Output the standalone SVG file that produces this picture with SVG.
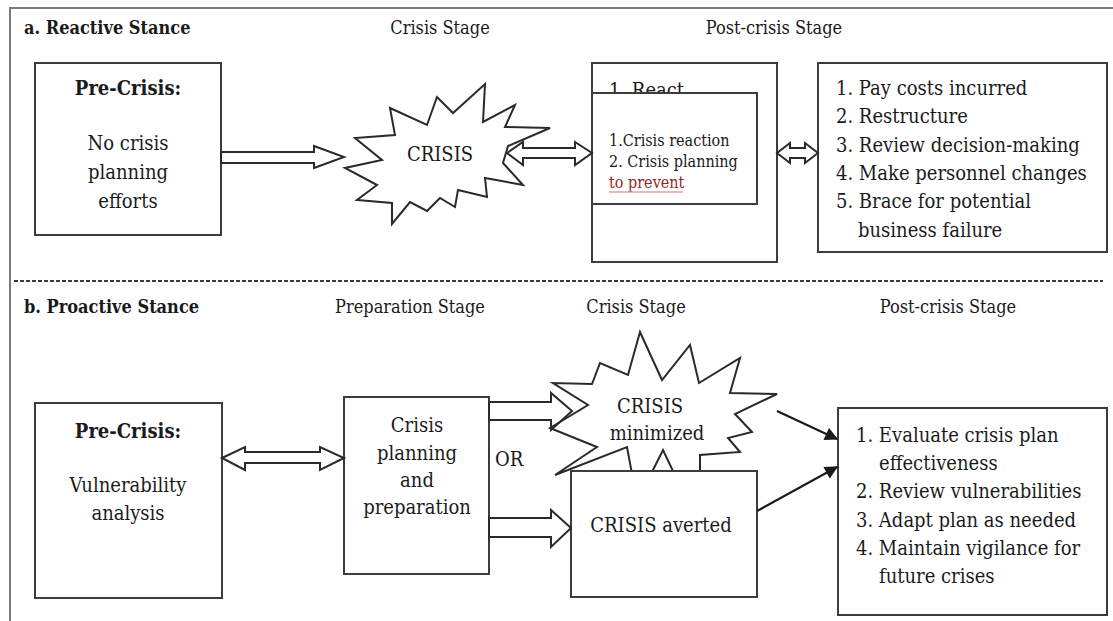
<svg xmlns="http://www.w3.org/2000/svg" width="1113" height="621" viewBox="0 0 1113 621" font-family="DejaVu Serif Condensed, DejaVu Serif, serif" font-stretch="condensed">
  <style>
    text { fill: #1a1a1a; }
    .hdr { font-size: 18px; }
    .hdrb { font-size: 18px; font-weight: bold; }
    .body { font-size: 20px; }
    .bold { font-size: 20px; font-weight: bold; }
    .small { font-size: 16px; }
    .mid { text-anchor: middle; }
    .box { fill: #ffffff; stroke: #3c3c3c; stroke-width: 2; }
    .star { fill: #ffffff; stroke: #2a2a2a; stroke-width: 2; stroke-linejoin: miter; }
    .block { fill: none; stroke: #2a2a2a; stroke-width: 2; stroke-linejoin: miter; }
    .line { fill: none; stroke: #1a1a1a; stroke-width: 2.2; }
  </style>
  <defs>
    <marker id="solidHead" viewBox="0 0 10 10" refX="9" refY="5" markerWidth="6.5" markerHeight="6" orient="auto" markerUnits="strokeWidth">
      <path d="M0,0 L10,5 L0,10 z" fill="#1a1a1a"/>
    </marker>
  </defs>

  <rect width="1113" height="621" fill="#ffffff"/>

  <!-- outer frame: top and left edges -->
  <path d="M10,621 L10,8 L1113,8" fill="none" stroke="#7a7a7a" stroke-width="2"/>

  <!-- section divider -->
  <line x1="14" y1="281" x2="1103" y2="281" stroke="#3a3a3a" stroke-width="2.2" stroke-dasharray="4 2"/>

  <!-- stage headings -->
  <g id="headings">
    <text class="hdrb" x="24" y="34">a. Reactive Stance</text>
    <text class="hdr mid" x="440" y="34">Crisis Stage</text>
    <text class="hdr mid" x="774" y="34">Post-crisis Stage</text>
    <text class="hdrb" x="24" y="313">b. Proactive Stance</text>
    <text class="hdr mid" x="410" y="313">Preparation Stage</text>
    <text class="hdr mid" x="636" y="313">Crisis Stage</text>
    <text class="hdr mid" x="948" y="313">Post-crisis Stage</text>
  </g>

  <!-- a. reactive stance -->
  <g id="a-precrisis">
    <rect class="box" x="35" y="63" width="186" height="172"/>
    <text class="bold mid" x="128" y="95">Pre-Crisis:</text>
    <text class="body mid" x="128" y="150">No crisis</text>
    <text class="body mid" x="128" y="179">planning</text>
    <text class="body mid" x="128" y="208">efforts</text>
  </g>

  <g id="a-crisis">
    <polygon class="star" points="390,108 427,125 437,97 453,113 485,84 483,122 515,105 505,127 550,128 508,146 503,163 523,185 485,178 487,197 458,190 455,207 440,198 427,211 410,202 392,224 392,203 357,200 377,185 345,168 382,160 355,138 395,135"/>
    <text class="body mid" x="440" y="161">CRISIS</text>
  </g>

  <g id="a-react">
    <rect class="box" x="592" y="63" width="185" height="199"/>
    <text class="body" x="609" y="97">1. React</text>
    <rect class="box" x="592" y="93" width="165" height="111"/>
    <text class="small" x="609" y="146">1.Crisis reaction</text>
    <text class="small" x="609" y="167">2. Crisis planning</text>
    <text class="small" x="609" y="188" style="fill:#9e2424">to prevent</text>
    <line x1="609" y1="192" x2="683" y2="192" stroke="#d9a3a3" stroke-width="1.5"/>
  </g>

  <g id="a-postcrisis">
    <rect class="box" x="818" y="63" width="289" height="189"/>
    <text class="body" x="836" y="95">1. Pay costs incurred</text>
    <text class="body" x="836" y="123">2. Restructure</text>
    <text class="body" x="836" y="152">3. Review decision-making</text>
    <text class="body" x="836" y="180">4. Make personnel changes</text>
    <text class="body" x="836" y="208">5. Brace for potential</text>
    <text class="body" x="858" y="237">business failure</text>
  </g>

  <!-- b. proactive stance -->
  <g id="b-precrisis">
    <rect class="box" x="35" y="403" width="187" height="195"/>
    <text class="bold mid" x="128" y="438">Pre-Crisis:</text>
    <text class="body mid" x="128" y="492">Vulnerability</text>
    <text class="body mid" x="128" y="520">analysis</text>
  </g>

  <g id="b-planning">
    <rect class="box" x="344" y="397" width="145" height="177"/>
    <text class="body mid" x="417" y="432">Crisis</text>
    <text class="body mid" x="417" y="460">planning</text>
    <text class="body mid" x="417" y="487">and</text>
    <text class="body mid" x="417" y="514">preparation</text>
  </g>

  <g id="b-or">
    <text class="body" x="495" y="466">OR</text>
  </g>

  <g id="b-minimized">
    <polygon class="star" points="640,332 662,380 690,345 699,383 740,358 730,393 777,394 735,414 752,432 728,438 740,452 700,455 700,490 682,490 663,450 643,490 635,490 627,447 555,475 597,447 550,428 588,405 553,383 592,384 600,363 628,375"/>
    <text class="body mid" x="650" y="413">CRISIS</text>
    <text class="body mid" x="657" y="440">minimized</text>
  </g>

  <g id="b-averted">
    <rect class="box" x="571" y="471" width="186" height="126"/>
    <text class="body mid" x="661" y="532">CRISIS averted</text>
  </g>

  <g id="b-postcrisis">
    <rect class="box" x="838" y="408" width="269" height="207"/>
    <text class="body" x="856" y="442">1. Evaluate crisis plan</text>
    <text class="body" x="879" y="470">effectiveness</text>
    <text class="body" x="856" y="498">2. Review vulnerabilities</text>
    <text class="body" x="856" y="527">3. Adapt plan as needed</text>
    <text class="body" x="856" y="555">4. Maintain vigilance for</text>
    <text class="body" x="879" y="583">future crises</text>
  </g>

  <!-- connectors -->
  <g id="connectors">
    <!-- hollow block arrows -->
    <polygon class="block" points="221,152 314,152 314,146 344,157 314,168 314,163 221,163"/>
    <polygon class="block" points="507,153 523,142 523,148 575,148 575,142 592,153 575,165 575,158 523,158 523,165"/>
    <polygon class="block" points="777,153 790,143 790,148 805,148 805,143 818,153 805,163 805,158 790,158 790,163"/>
    <polygon class="block" points="222,458 245,447 245,452 320,452 320,447 344,458 320,470 320,463 245,463 245,470"/>
    <polygon class="block" points="489,402 551,402 551,393 572,411 551,430 551,420 489,420"/>
    <polygon class="block" points="489,518 551,518 551,510 571,528 551,547 551,537 489,537"/>
    <!-- solid arrows into post-crisis list -->
    <line class="line" x1="777" y1="411" x2="837" y2="439" marker-end="url(#solidHead)"/>
    <line class="line" x1="757" y1="511" x2="837" y2="467" marker-end="url(#solidHead)"/>
  </g>
</svg>
